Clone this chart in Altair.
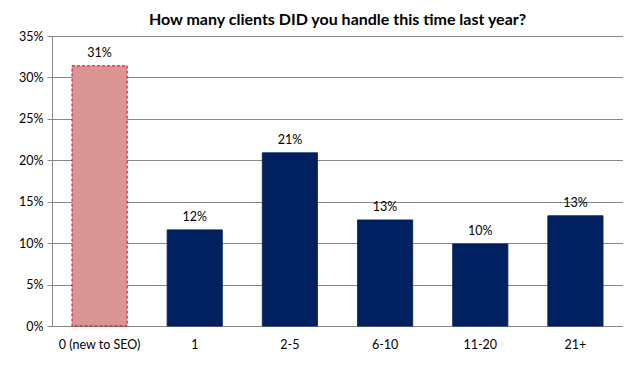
import altair as alt
import pandas as pd

categories = ["0 (new to SEO)", "1", "2-5", "6-10", "11-20", "21+"]
values = [0.314, 0.116, 0.209, 0.128, 0.099, 0.133]
labels = ["31%", "12%", "21%", "13%", "10%", "13%"]
highlight = [True, False, False, False, False, False]

df = pd.DataFrame({"cat": categories, "val": values, "lab": labels, "hl": highlight})

FONT = "Lato"

x = alt.X("cat:N", sort=categories, title=None,
          scale=alt.Scale(paddingInner=0.42, paddingOuter=0.21),
          axis=alt.Axis(labelAngle=0, labelFontSize=12.5, labelFont=FONT, labelColor="#000000",
                        ticks=False, domainColor="#868686", labelPadding=12))
y = alt.Y("val:Q", title=None,
          scale=alt.Scale(domain=[0, 0.35]),
          axis=alt.Axis(format=".0%", values=[0, 0.05, 0.1, 0.15, 0.2, 0.25, 0.3, 0.35],
                        labelFontSize=12.5, labelFont=FONT, labelColor="#000000",
                        gridColor="#868686", domainColor="#868686", tickColor="#868686",
                        tickSize=5, labelPadding=4))

bars = alt.Chart(df).mark_bar().encode(
    x=x, y=y,
    color=alt.Color("hl:N", scale=alt.Scale(domain=[True, False], range=["#D99594", "#002060"]), legend=None),
    stroke=alt.Stroke("hl:N", scale=alt.Scale(domain=[True, False], range=["#E00000", "#002060"]), legend=None),
    strokeDash=alt.StrokeDash("hl:N", scale=alt.Scale(domain=[True, False], range=[[3, 2], [1, 0]]), legend=None),
)

text = alt.Chart(df).mark_text(baseline="bottom", dy=-6, fontSize=12.5, font=FONT, color="#000000").encode(
    x=alt.X("cat:N", sort=categories), y="val:Q", text="lab:N"
)

chart = (bars + text).properties(
    width=571, height=290,
    title=alt.TitleParams("How many clients DID you handle this time last year?",
                          fontSize=16, font=FONT, fontWeight="bold", color="#000000",
                          anchor="middle", offset=2),
    autosize=alt.AutoSizeParams(type="none"),
    padding={"left": 44, "top": 28, "right": 0, "bottom": 42},
).configure_view(stroke="#868686", strokeWidth=1)

chart.save("out.html", embed_options={"renderer": "svg", "actions": False})
